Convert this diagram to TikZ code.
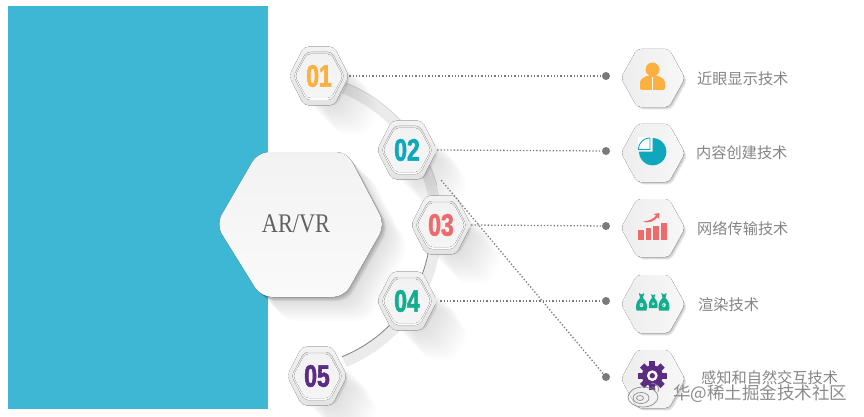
\documentclass[tikz,border=0pt]{standalone}
\usepackage{fontspec}
\newfontfamily\cjkf{Noto Sans CJK SC}
\newfontfamily\numf[FakeStretch=0.74,FakeBold=1.8]{Liberation Sans}
\newfontfamily\serf{Liberation Serif}
\usetikzlibrary{calc}
\definecolor{skyb}{HTML}{3DB7D3}
\definecolor{cA}{HTML}{FBB040}
\definecolor{cB}{HTML}{0FA7BC}
\definecolor{cC}{HTML}{EE6B6B}
\definecolor{cD}{HTML}{14AD8F}
\definecolor{cE}{HTML}{5B2D82}
\definecolor{dotc}{HTML}{7A7A7A}
\definecolor{txtc}{HTML}{858585}
% #1 cx, #2 cy, #3 half width, #4 half height
\newcommand{\hexshape}[4]{({#1-#3},{#2}) -- ({#1-#3/2},{#2-#4}) -- ({#1+#3/2},{#2-#4}) -- ({#1+#3},{#2}) -- ({#1+#3/2},{#2+#4}) -- ({#1-#3/2},{#2+#4}) -- cycle}
\newcommand{\bighex}{(216,224.5) -- (258,152) -- (347,152) -- (385,224.5) -- (344,297) -- (261,297) -- cycle}
\newcommand{\numhex}[5]{%
  \foreach \i in {2,4,...,34}{\fill[black,opacity=.006,rounded corners=5pt,shift={(\i,\i)}] \hexshape{#1}{#2}{27}{25};}
  \foreach \i in {1,2,3,4}{\fill[black,opacity=.05,rounded corners=5pt,shift={(\i,\i*.8)}] \hexshape{#1}{#2}{28}{26.5};}
  \fill[rounded corners=5pt,top color=black!5,bottom color=black!11] \hexshape{#1}{#2}{30}{29.5};
  \fill[rounded corners=4pt,top color=black!10,bottom color=black!1] \hexshape{#1}{#2}{25.5}{24};
  \fill[rounded corners=4pt,top color=black!5,bottom color=black!4] \hexshape{#1}{#2}{24}{22};
  \node[numtext,text=#4] (#5) at (#1,#2) {#3};
}
\newcommand{\iconhex}[3]{%
  \foreach \i in {1,2,3,4}{\fill[black,opacity=.07,rounded corners=4pt,shift={(\i*.7,\i*.8)}] \hexshape{#1}{#2}{31.5}{28.5};}
  \fill[rounded corners=4pt,left color=black!7,right color=black!3] \hexshape{#1}{#2}{32}{29};
  \coordinate (#3) at (#1,#2);
}
\tikzset{
  numtext/.style={font=\numf\bfseries\fontsize{31}{31}\selectfont,inner sep=0pt,minimum width=60pt,minimum height=60pt,anchor=center},
  dotlink/.style={dotc,line width=1.3pt,dash pattern=on 1.3pt off 2pt},
  enddot/.style={circle,fill=dotc,inner sep=0pt,minimum size=8pt},
  lab/.style={font=\cjkf\fontsize{15.2}{16}\selectfont,text=txtc,anchor=west,inner sep=0pt},
}
\begin{document}
\begin{tikzpicture}[x=1pt,y=-1pt]
\useasboundingbox (0,0) rectangle (864,417);
\fill[white] (0,0) rectangle (864,417);
\fill[skyb] (8,6) rectangle (268,409);

% arc band
\draw[line width=11pt,black!8] plot[domain=-68:68,samples=80] ({289+147.5*cos(\x)},{225-147.5*sin(\x)});
\draw[line width=.7pt,black!17] plot[domain=15:68,samples=50] ({289+153*cos(\x)},{225-153*sin(\x)});
\draw[line width=.8pt,black!50] plot[domain=-68:-5,samples=50] ({289+142*cos(\x)},{225-142*sin(\x)});

% central hexagon
\foreach \i in {2,4,...,24}{\fill[black,opacity=.012,rounded corners=11pt,shift={(\i,\i)}] \bighex;}
\foreach \i in {1,2,3,4}{\fill[black,opacity=.06,rounded corners=11pt,shift={(\i,\i)}] \bighex;}
\fill[rounded corners=11pt,top color=black!5,bottom color=black!2] \bighex;
\node[font=\serf\fontsize{24}{24}\selectfont,text=black!62,xscale=.93,yscale=1.12] (core) at (296,224) {AR/VR};

% numbered hexagons
\numhex{319}{76}{01}{cA}{n1}
\numhex{407}{150}{02}{cB}{n2}
\numhex{441}{225}{03}{cC}{n3}
\numhex{407}{301}{04}{cD}{n4}
\numhex{317}{376}{05}{cE}{n5}

% icon hexagons
\iconhex{653}{78}{i1}
\iconhex{653}{153}{i2}
\iconhex{653}{228}{i3}
\iconhex{653}{304}{i4}
\iconhex{653}{379}{i5}

% end dots and links
\node[enddot] (d1) at (606,76) {};
\node[enddot] (d2) at (606,151) {};
\node[enddot] (d3) at (606,226) {};
\node[enddot] (d4) at (606,301) {};
\node[enddot] (d5) at (606,377) {};
\draw[dotlink] (n1.east) -- (d1);
\draw[dotlink] (n2.east) -- (d2);
\draw[dotlink] (n3.east) -- (d3);
\draw[dotlink] ([xshift=3pt]n4.east) -- (d4);
\draw[dotlink] ([xshift=4pt]n2.south east) -- (d5);

% person
\fill[cA] (652.5,69.5) circle[radius=7];
\fill[cA,rounded corners=2pt] (640,90) -- (640,80) -- (647,75.5) -- (658,75.5) -- (665,80) -- (665,90) -- cycle;
\draw[white,line width=.9pt] (652.5,77) -- (652.5,90);

% pie
\fill[cB] (652.7,151.7) -- plot[domain=90:-180,samples=60] ({652.7+13.6*cos(\x)},{151.7-13.6*sin(\x)}) -- cycle;
\fill[white] (651.5,149.5) -- (651.5,137) -- (638,137) -- (638,149.5) -- cycle;
\draw[cB,line width=.9pt] (650,149.5) -- plot[domain=90:180,samples=20] ({650+11.5*cos(\x)},{149.5-11.5*sin(\x)}) -- cycle;

% bars
\fill[cC] (638,230) rectangle (643.5,239.5);
\fill[cC] (645.5,228) rectangle (651,239.5);
\fill[cC] (653,225.5) rectangle (658.5,239.5);
\fill[cC] (660.5,222.5) rectangle (667,239.5);
\fill[cC] (643,221.5) .. controls (650,221) and (654,218) .. (656,215.5) -- (653.5,214) -- (659.5,213) -- (659,219) -- (657.5,217) .. controls (654,222) and (648,223.5) .. (643,221.5) -- cycle;

% money bags
\foreach \bx/\by/\bs/\sy in {641.5/303/1/\$,653.2/302/.8/¢,664/303/1/£}{
  \begin{scope}[shift={(\bx,\by)},xscale=.9*\bs,yscale=\bs]
  \fill[cD] (-3,-10) -- (0,-8.5) -- (3,-10) -- (1.6,-5) .. controls (6,-2) and (7,4) .. (5.5,7.5) -- (-5.5,7.5) .. controls (-7,4) and (-6,-2) .. (-1.6,-5) -- cycle;
  \fill[white] (0,2) circle[radius=2];
  \node[font=\fontsize{3.5}{4}\selectfont\bfseries,text=cD,inner sep=0pt] at (0,2) {\sy};
  \end{scope}
}

% gear
\begin{scope}[shift={(652.3,375.7)}]
  \foreach \a in {0,45,...,315}{\fill[cE,rotate=\a] (-3,-14.5) rectangle (3,-8);}
  \fill[cE] (0,0) circle[radius=10.5];
  \fill[white] (0,0) circle[radius=5.4];
  \fill[cE] (0,0) circle[radius=2.7];
\end{scope}

% labels
\node[lab] (t1) at (697,79) {近眼显示技术};
\node[lab] (t2) at (696,153) {内容创建技术};
\node[lab] (t3) at (697,229) {网络传输技术};
\node[lab] (t4) at (698,305) {渲染技术};
\node[lab] (t5) at (701,378) {感知和自然交互技术};

% watermark
\begin{scope}[black!45,line width=.7pt]
  \draw (643,397) ellipse[x radius=15,y radius=10];
  \draw (641,398) ellipse[x radius=8,y radius=5.5];
  \draw (640,398) ellipse[x radius=3.5,y radius=2.5];
  \draw (651,383) .. controls (657,383) and (660,388) .. (658,392);
  \draw (652,387) .. controls (655,387) and (656,389) .. (655,391);
\end{scope}
\node[font=\cjkf\fontsize{17.5}{18}\selectfont,text=black!45,anchor=west,inner sep=0pt] (mark) at (673,394) {华@稀土掘金技术社区};
\end{tikzpicture}
\end{document}
